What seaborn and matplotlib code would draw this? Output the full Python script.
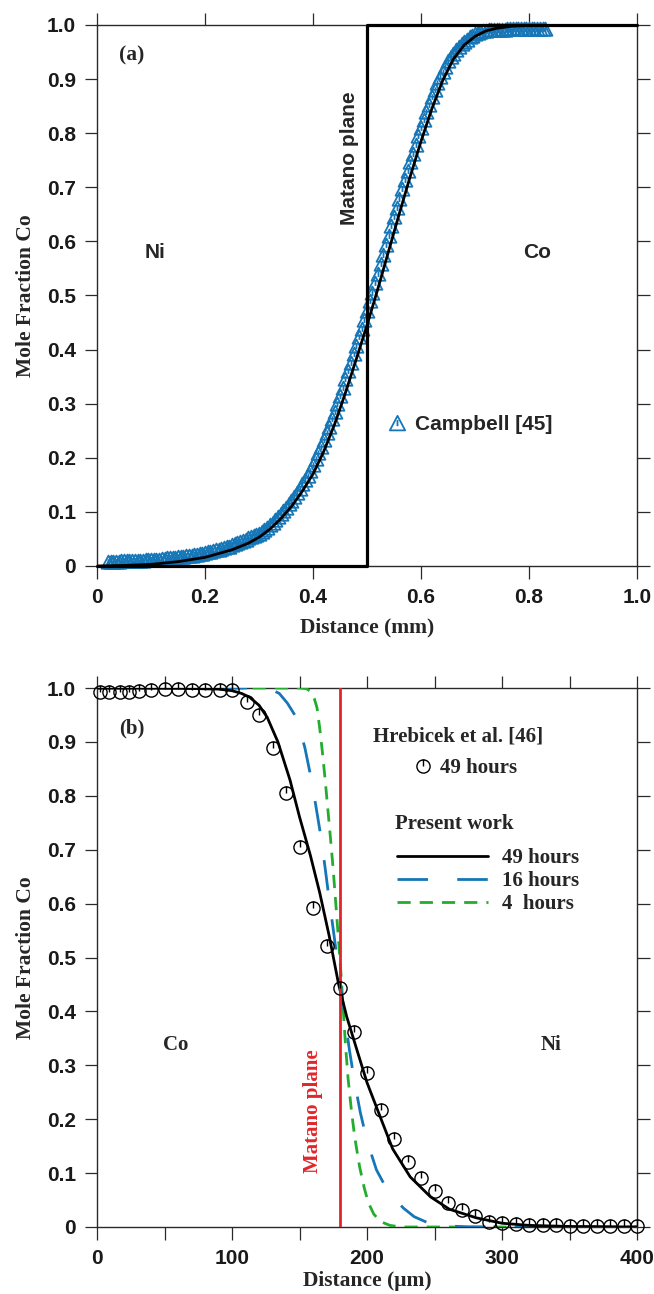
import numpy as np
import pandas as pd
import matplotlib
matplotlib.use('Agg')
import matplotlib.pyplot as plt
import seaborn as sns
from matplotlib.path import Path
from matplotlib.markers import MarkerStyle
from matplotlib.ticker import FixedLocator

sns.set_style('ticks')
SANS = ['Liberation Sans', 'DejaVu Sans']
SERIF = ['Liberation Serif', 'DejaVu Serif']
plt.rcParams['font.family'] = SANS
plt.rcParams['lines.scale_dashes'] = False
plt.rcParams['axes.linewidth'] = 1.0

BLUE = '#1576b8'
GREEN = '#22ad2e'
RED = '#e0262b'
SPINE = '#2a2a2a'

# ---------------- panel (a) data ----------------
campbell_x = [
    0.020, 0.025, 0.030, 0.035, 0.040, 0.045, 0.050, 0.055, 0.060, 0.065,
    0.070, 0.075, 0.080, 0.085, 0.090, 0.095, 0.100, 0.105, 0.110, 0.115,
    0.120, 0.125, 0.130, 0.135, 0.140, 0.145, 0.150, 0.155, 0.160, 0.165,
    0.170, 0.175, 0.180, 0.185, 0.190, 0.195, 0.200,
    0.205, 0.210, 0.215, 0.220, 0.225, 0.230, 0.235, 0.240, 0.245, 0.250,
    0.255, 0.260, 0.265, 0.270, 0.275, 0.280, 0.285, 0.290, 0.295,
    0.300, 0.305, 0.310, 0.315, 0.320, 0.325, 0.330, 0.335, 0.340, 0.345,
    0.350, 0.355, 0.360, 0.365, 0.370, 0.375, 0.380, 0.385, 0.390, 0.395,
    0.400, 0.405, 0.410, 0.415, 0.420, 0.425, 0.430, 0.435, 0.440, 0.445,
    0.450, 0.455, 0.460, 0.465, 0.470, 0.475, 0.480, 0.485, 0.490, 0.495,
    0.500, 0.505, 0.510, 0.515, 0.520, 0.525, 0.530, 0.535, 0.540, 0.545,
    0.550, 0.555, 0.560, 0.565, 0.570, 0.575, 0.580, 0.585, 0.590, 0.595,
    0.600, 0.605, 0.610, 0.615, 0.620, 0.625, 0.630, 0.635, 0.640, 0.645,
    0.650, 0.655, 0.660, 0.665, 0.670, 0.675, 0.680, 0.685, 0.690, 0.695,
    0.700, 0.705, 0.710, 0.715, 0.720, 0.725, 0.730, 0.735, 0.740, 0.745,
    0.750, 0.755, 0.760, 0.765, 0.770, 0.775, 0.780, 0.785, 0.790, 0.795,
    0.800, 0.805, 0.810, 0.815, 0.820, 0.825, 0.830]
campbell_y = [
    0.008, 0.008, 0.008, 0.008, 0.008, 0.009, 0.009, 0.009, 0.009, 0.009,
    0.010, 0.010, 0.010, 0.010, 0.011, 0.011, 0.011, 0.012, 0.012, 0.012,
    0.013, 0.013, 0.014, 0.014, 0.015, 0.015, 0.016, 0.016, 0.017, 0.018,
    0.019, 0.019, 0.020, 0.021, 0.022, 0.023, 0.024,
    0.025, 0.026, 0.027, 0.029, 0.030, 0.032, 0.033, 0.035, 0.036, 0.038,
    0.040, 0.042, 0.044, 0.046, 0.048, 0.051, 0.053, 0.055, 0.058,
    0.060, 0.063, 0.066, 0.071, 0.076, 0.080, 0.085, 0.090, 0.096, 0.102,
    0.108, 0.114, 0.121, 0.128, 0.135, 0.143, 0.151, 0.159, 0.167, 0.176,
    0.187, 0.197, 0.208, 0.220, 0.232, 0.245, 0.257, 0.271, 0.285, 0.300,
    0.314, 0.329, 0.345, 0.360, 0.376, 0.391, 0.407, 0.423, 0.439, 0.455,
    0.472, 0.489, 0.505, 0.523, 0.540, 0.558, 0.575, 0.593, 0.610, 0.628,
    0.645, 0.662, 0.679, 0.696, 0.713, 0.730, 0.746, 0.762, 0.778, 0.794,
    0.809, 0.824, 0.839, 0.853, 0.866, 0.879, 0.892, 0.903, 0.913, 0.923,
    0.933, 0.941, 0.947, 0.954, 0.960, 0.965, 0.969, 0.973, 0.977, 0.980,
    0.983, 0.985, 0.987, 0.988, 0.989, 0.990, 0.990, 0.991, 0.991, 0.991,
    0.991, 0.991, 0.992, 0.992, 0.992, 0.992, 0.992, 0.992, 0.992, 0.992,
    0.992, 0.992, 0.992, 0.992, 0.992, 0.992, 0.992]

fit_a_x = [0.00, 0.05, 0.10, 0.15, 0.20, 0.25, 0.28, 0.30, 0.32, 0.34, 0.36,
           0.38, 0.40, 0.42, 0.44, 0.46, 0.48, 0.50, 0.52, 0.54, 0.56, 0.58,
           0.60, 0.62, 0.64, 0.66, 0.68, 0.70, 0.72, 0.74, 0.77, 0.80, 0.85, 1.00]
fit_a_y = [0.000, 0.001, 0.003, 0.008, 0.016, 0.030, 0.042, 0.053, 0.068, 0.087,
           0.110, 0.138, 0.170, 0.212, 0.262, 0.320, 0.382, 0.445, 0.512, 0.582,
           0.652, 0.720, 0.785, 0.845, 0.897, 0.937, 0.963, 0.979, 0.989, 0.994,
           0.998, 0.999, 1.000, 1.000]

step_x = [0.0, 0.5, 0.5, 1.0]
step_y = [0.0, 0.0, 1.0, 1.0]

# ---------------- panel (b) data ----------------
hreb_x = [2, 9, 17, 24, 31, 40, 50, 60, 70, 80, 91, 100, 111, 120, 130, 140,
          150, 160, 170, 180, 190, 200, 210, 220, 230, 240, 250, 260, 270, 280,
          290, 300, 310, 320, 330, 340, 350, 360, 370, 380, 390, 400]
hreb_y = [0.992, 0.992, 0.993, 0.993, 0.995, 0.997, 0.998, 0.998, 0.997, 0.996,
          0.996, 0.997, 0.974, 0.950, 0.888, 0.805, 0.705, 0.592, 0.521, 0.443,
          0.362, 0.286, 0.217, 0.163, 0.120, 0.091, 0.066, 0.045, 0.032, 0.020,
          0.010, 0.008, 0.005, 0.004, 0.003, 0.003, 0.002, 0.002, 0.002, 0.001,
          0.001, 0.001]

h49_x = [0, 60, 90, 100, 107, 113, 120, 126, 134, 143, 150, 158, 165, 172, 179,
         185, 192.6, 200, 210, 219, 232, 247, 261, 281, 300, 320, 350, 400]
h49_y = [1.0, 0.9995, 0.998, 0.995, 0.990, 0.983, 0.968, 0.946, 0.900, 0.829,
         0.761, 0.690, 0.620, 0.540, 0.450, 0.390, 0.328, 0.268, 0.203, 0.145,
         0.093, 0.056, 0.033, 0.017, 0.007, 0.003, 0.001, 0.0]

h16_x = [0, 120, 128, 135, 141, 148, 154, 158, 162, 166, 169, 172, 175, 178,
         181, 184, 187, 190.5, 195, 200, 207, 213, 219, 227, 235, 245, 258, 280, 400]
h16_y = [1.0, 1.0, 0.998, 0.990, 0.972, 0.944, 0.889, 0.840, 0.783, 0.722,
         0.666, 0.607, 0.552, 0.495, 0.438, 0.382, 0.328, 0.273, 0.213, 0.160,
         0.106, 0.078, 0.056, 0.035, 0.019, 0.008, 0.002, 0.0, 0.0]

h4_x = [0, 150, 155, 158, 161, 163, 165, 167, 169, 171, 173, 175, 177, 179,
        181, 182.5, 184, 186, 188.5, 191, 194.5, 198, 201, 205, 210, 217, 225, 400]
h4_y = [1.0, 1.0, 0.999, 0.994, 0.980, 0.963, 0.925, 0.880, 0.830, 0.775,
        0.720, 0.662, 0.596, 0.530, 0.460, 0.400, 0.340, 0.275, 0.215, 0.165,
        0.112, 0.072, 0.045, 0.024, 0.010, 0.003, 0.0, 0.0]

matano_b_x = [180, 180]
matano_b_y = [0.0, 1.0]

xticks_a = [0, 0.2, 0.4, 0.6, 0.8, 1.0]
xticklabels_a = ['0', '0.2', '0.4', '0.6', '0.8', '1.0']
yticks = [0, 0.1, 0.2, 0.3, 0.4, 0.5, 0.6, 0.7, 0.8, 0.9, 1.0]
yticklabels = ['0', '0.1', '0.2', '0.3', '0.4', '0.5', '0.6', '0.7', '0.8', '0.9', '1.0']
xticks_b = [0, 100, 200, 300, 400]
xticklabels_b = ['0', '100', '200', '300', '400']
xminor_b = [50, 150, 250, 350]

# ---------------- markers ----------------
tri = Path([[0, 1], [-1, -0.9], [1, -0.9], [0, 1], [0, 0.45], [0, -0.35]],
           [Path.MOVETO, Path.LINETO, Path.LINETO, Path.CLOSEPOLY,
            Path.MOVETO, Path.LINETO])
tri_marker = MarkerStyle(tri)
circ_tick = Path.make_compound_path(
    Path.unit_circle(), Path([[0, 0], [0, 1]], [Path.MOVETO, Path.LINETO]))
circ_marker = MarkerStyle(circ_tick)

fig = plt.figure(figsize=(6.54, 12.94), dpi=100)
ax1 = fig.add_axes([97 / 654, 1 - 566 / 1294, 540 / 654, 541 / 1294])
ax2 = fig.add_axes([97 / 654, 1 - 1227 / 1294, 540 / 654, 539 / 1294])


def style_axes(ax):
    for s in ax.spines.values():
        s.set_visible(True)
        s.set_color(SPINE)
        s.set_linewidth(1.0)
    ax.tick_params(which='both', direction='out', length=9, width=0.9,
                   color=SPINE, top=True, right=True,
                   labeltop=False, labelright=False)
    ax.tick_params(axis='x', pad=6.5)
    ax.tick_params(axis='y', pad=6)
    for lab in ax.get_xticklabels() + ax.get_yticklabels():
        lab.set_fontfamily(SANS)
        lab.set_fontweight('bold')
        lab.set_fontsize(15)
        lab.set_color('#1a1a1a')


# ---------------- panel (a) ----------------
sns.lineplot(x=campbell_x, y=campbell_y, ax=ax1, estimator=None, sort=False,
             linestyle='', marker=tri_marker, markersize=10,
             markerfacecolor='none', markeredgecolor=BLUE,
             markeredgewidth=1.3, color=BLUE, legend=False, clip_on=False,
             zorder=2)
camp_line = ax1.lines[-1]
sns.lineplot(x=fit_a_x, y=fit_a_y, ax=ax1, estimator=None, sort=False,
             color='black', linewidth=2.0, legend=False, zorder=3)
sns.lineplot(x=step_x, y=step_y, ax=ax1, estimator=None, sort=False,
             color='black', linewidth=2.3, legend=False, zorder=3,
             clip_on=False)

ax1.set_xlim(0, 1.0)
ax1.set_ylim(0, 1.0)
ax1.xaxis.set_major_locator(FixedLocator(xticks_a))
ax1.set_xticklabels(xticklabels_a)
ax1.yaxis.set_major_locator(FixedLocator(yticks))
ax1.set_yticklabels(yticklabels)
style_axes(ax1)
ax1.set_xlabel('Distance (mm)', fontfamily=SERIF, fontweight='bold', fontsize=15.5)
ax1.set_ylabel('Mole Fraction Co', fontfamily=SERIF, fontweight='bold', fontsize=15.5)
ax1.xaxis.set_label_coords(0.5, -0.096)
ax1.yaxis.set_label_coords(-0.113, 0.5)

T1 = ax1.transAxes
ax1.text(0.065, 0.943, '(a)', fontfamily=SERIF, fontweight='bold', fontsize=15.5,
         ha='center', va='center', transform=T1)
ax1.text(0.107, 0.579, 'Ni', fontfamily=SANS, fontweight='bold', fontsize=15,
         ha='center', va='center', transform=T1)
ax1.text(0.815, 0.579, 'Co', fontfamily=SANS, fontweight='bold', fontsize=15,
         ha='center', va='center', transform=T1)
ax1.text(0.467, 0.754, 'Matano plane', fontfamily=SANS, fontweight='bold',
         fontsize=15, rotation=90, ha='center', va='center', transform=T1)
leg_a = ax1.legend([camp_line], ['Campbell [45]'], loc='center left',
                   bbox_to_anchor=(0.536, 0.261), frameon=False, borderpad=0,
                   borderaxespad=0, handlelength=1.0, handletextpad=0.37,
                   markerscale=1.1,
                   prop={'family': SANS, 'weight': 'bold', 'size': 15})

# ---------------- panel (b) ----------------
sns.lineplot(x=matano_b_x, y=matano_b_y, ax=ax2, estimator=None, sort=False,
             color=RED, linewidth=2.0, legend=False, zorder=4)
sns.lineplot(x=h4_x, y=h4_y, ax=ax2, estimator=None, sort=False,
             color=GREEN, linewidth=2.0, linestyle=(0, (9.5, 6.5)),
             legend=False, zorder=3)
l4 = ax2.lines[-1]
sns.lineplot(x=h16_x, y=h16_y, ax=ax2, estimator=None, sort=False,
             color=BLUE, linewidth=2.0, linestyle=(0, (22, 21)),
             legend=False, zorder=3)
l16 = ax2.lines[-1]
sns.lineplot(x=h49_x, y=h49_y, ax=ax2, estimator=None, sort=False,
             color='black', linewidth=2.0, legend=False, zorder=3)
l49 = ax2.lines[-1]
sns.lineplot(x=hreb_x, y=hreb_y, ax=ax2, estimator=None, sort=False,
             linestyle='', marker=circ_marker, markersize=9.5,
             markerfacecolor='none', markeredgecolor='black',
             markeredgewidth=1.0, color='black', legend=False, clip_on=False,
             zorder=5)
lh = ax2.lines[-1]

ax2.set_xlim(0, 400)
ax2.set_ylim(0, 1.0)
ax2.xaxis.set_major_locator(FixedLocator(xticks_b))
ax2.set_xticklabels(xticklabels_b)
ax2.xaxis.set_minor_locator(FixedLocator(xminor_b))
ax2.yaxis.set_major_locator(FixedLocator(yticks))
ax2.set_yticklabels(yticklabels)
style_axes(ax2)
ax2.set_xlabel('Distance (\u03bcm)', fontfamily=SERIF, fontweight='bold', fontsize=15.5)
ax2.set_ylabel('Mole Fraction Co', fontfamily=SERIF, fontweight='bold', fontsize=15.5)
ax2.xaxis.set_label_coords(0.5, -0.082)
ax2.yaxis.set_label_coords(-0.113, 0.5)

T2 = ax2.transAxes
tkw = dict(fontfamily=SERIF, fontweight='bold', fontsize=15, transform=T2)
ax2.text(0.065, 0.925, '(b)', ha='center', va='center', **tkw)
ax2.text(0.146, 0.338, 'Co', ha='center', va='center', **tkw)
ax2.text(0.841, 0.338, 'Ni', ha='center', va='center', **tkw)
ax2.text(0.400, 0.214, 'Matano plane', rotation=90, ha='center', va='center',
         color=RED, **tkw)
ax2.text((373 - 97) / 540, (1227 - 736) / 539, 'Hrebicek et al. [46]',
         ha='left', va='center', **tkw)
ax2.text((395 - 97) / 540, (1227 - 824) / 539, 'Present work',
         ha='left', va='center', **tkw)

prop_b = {'family': SERIF, 'weight': 'bold', 'size': 15}
leg1 = ax2.legend([lh], ['49 hours'], loc='center left',
                  bbox_to_anchor=(0.588, (1227 - 768) / 539), frameon=False,
                  borderpad=0, borderaxespad=0, handlelength=0.8,
                  handletextpad=0.42, prop=prop_b)
ax2.add_artist(leg1)
ax2.legend([l49, l16, l4], ['49 hours', '16 hours', '4  hours'],
           loc='center left', bbox_to_anchor=(0.5556, (1227 - 881) / 539),
           frameon=False, borderpad=0, borderaxespad=0, handlelength=4.37,
           handletextpad=0.67, labelspacing=0.14, prop=prop_b)

fig.savefig('out.png', dpi=100)
